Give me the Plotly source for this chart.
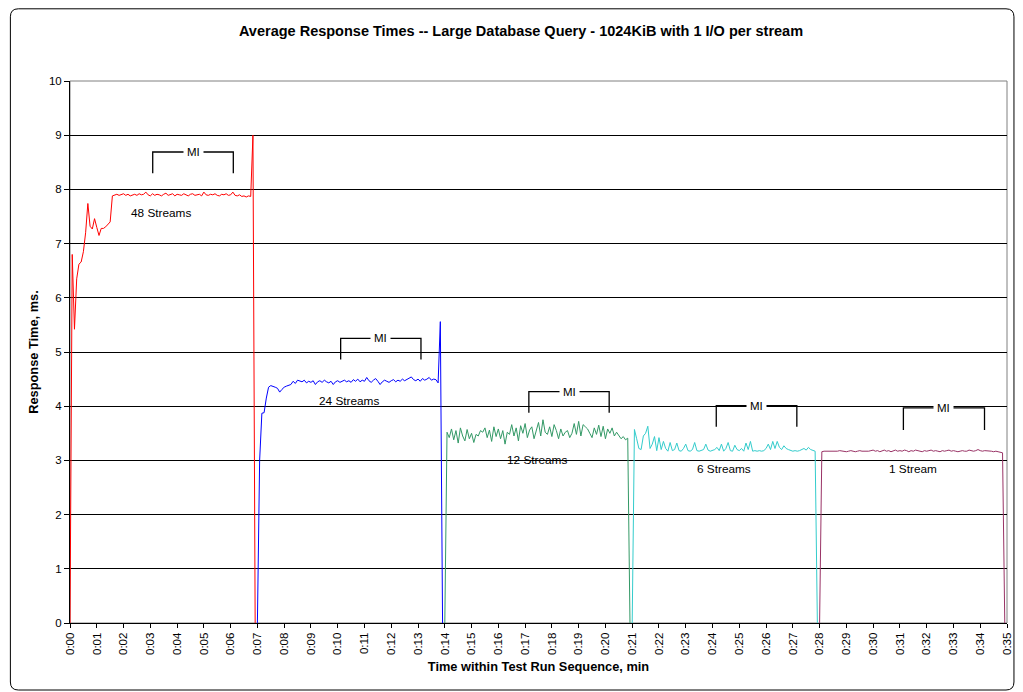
import plotly.graph_objects as go

# ---------------- data ----------------
sample_interval_min = 5 / 60  # 5-second samples
segment_start_min = [0, 7, 14, 21, 28]
series_names = ["48 Streams", "24 Streams", "12 Streams", "6 Streams", "1 Stream"]
series_colors = ["#FF0000", "#0000FF", "#339966", "#33CCCC", "#993366"]

streams_48 = [
    0, 6.80, 5.42, 6.35, 6.62, 6.66, 6.85, 7.20, 7.74, 7.32,
    7.27, 7.46, 7.30, 7.15, 7.28, 7.28, 7.31, 7.36, 7.40, 7.88,
    7.90, 7.91, 7.89, 7.90, 7.92, 7.89, 7.91, 7.88, 7.90, 7.91,
    7.89, 7.92, 7.90, 7.91, 7.95, 7.90, 7.88, 7.92, 7.89, 7.91,
    7.90, 7.88, 7.91, 7.93, 7.89, 7.90, 7.92, 7.88, 7.91, 7.90,
    7.89, 7.92, 7.90, 7.88, 7.91, 7.92, 7.89, 7.90, 7.91, 7.88,
    7.95, 7.90, 7.89, 7.91, 7.90, 7.92, 7.89, 7.88, 7.91, 7.90,
    7.92, 7.89, 7.90, 7.95, 7.89, 7.88, 7.90, 7.87, 7.88, 7.86,
    7.88, 7.87, 9.00, 0,
]
streams_24 = [
    0, 3.00, 3.87, 3.88, 4.15, 4.35, 4.38, 4.37, 4.35, 4.33,
    4.26, 4.31, 4.35, 4.37, 4.38, 4.40, 4.46, 4.42, 4.48, 4.46,
    4.45, 4.48, 4.43, 4.46, 4.44, 4.47, 4.40, 4.45, 4.47, 4.44,
    4.48, 4.45, 4.43, 4.46, 4.40, 4.45, 4.47, 4.44, 4.46, 4.48,
    4.45, 4.47, 4.44, 4.49, 4.46, 4.50, 4.45, 4.48, 4.46, 4.53,
    4.47, 4.44, 4.48, 4.51, 4.46, 4.40, 4.45, 4.48, 4.46, 4.44,
    4.47, 4.49, 4.45, 4.48, 4.46, 4.50, 4.47, 4.49, 4.51, 4.54,
    4.49, 4.47, 4.50, 4.46, 4.51, 4.48, 4.50, 4.53, 4.48, 4.50,
    4.49, 4.43, 5.56, 0,
]
streams_12 = [
    0, 3.52, 3.42, 3.58, 3.38, 3.55, 3.32, 3.60, 3.45, 3.36,
    3.57, 3.40, 3.50, 3.33, 3.48, 3.45, 3.55, 3.52, 3.60, 3.42,
    3.56, 3.35, 3.62, 3.44, 3.58, 3.40, 3.55, 3.30, 3.52, 3.48,
    3.66, 3.45, 3.60, 3.36, 3.64, 3.50, 3.68, 3.42, 3.56, 3.62,
    3.40, 3.58, 3.70, 3.45, 3.75, 3.52, 3.48, 3.62, 3.44, 3.66,
    3.55, 3.40, 3.58, 3.45, 3.52, 3.55, 3.42, 3.50, 3.68, 3.48,
    3.72, 3.45, 3.66, 3.62, 3.58, 3.50, 3.42, 3.60, 3.48, 3.65,
    3.44, 3.63, 3.40, 3.58, 3.50, 3.60, 3.45, 3.52, 3.47, 3.40,
    3.44, 3.38, 3.41, 0,
]
streams_6 = [
    0, 3.57, 3.40, 3.22, 3.20, 3.45, 3.50, 3.63, 3.22, 3.30,
    3.44, 3.18, 3.42, 3.20, 3.35, 3.22, 3.17, 3.33, 3.18, 3.20,
    3.32, 3.18, 3.17, 3.22, 3.30, 3.18, 3.17, 3.20, 3.33, 3.18,
    3.17, 3.18, 3.20, 3.30, 3.19, 3.17, 3.18, 3.20, 3.24, 3.18,
    3.30, 3.17, 3.22, 3.33, 3.18, 3.17, 3.28, 3.20, 3.18, 3.22,
    3.17, 3.32, 3.20, 3.35, 3.17, 3.18, 3.17, 3.18, 3.17, 3.18,
    3.22, 3.30, 3.20, 3.35, 3.22, 3.35, 3.24, 3.20, 3.27, 3.22,
    3.20, 3.18, 3.17, 3.18, 3.17, 3.18, 3.20, 3.22, 3.19, 3.24,
    3.20, 3.19, 3.17, 0,
]
streams_1 = [
    0, 3.16, 3.17, 3.17, 3.16, 3.17, 3.17, 3.16, 3.17, 3.18,
    3.17, 3.17, 3.16, 3.17, 3.18, 3.17, 3.16, 3.17, 3.18, 3.17,
    3.17, 3.16, 3.17, 3.18, 3.19, 3.17, 3.18, 3.16, 3.18, 3.19,
    3.17, 3.18, 3.16, 3.17, 3.19, 3.17, 3.18, 3.17, 3.19, 3.18,
    3.16, 3.18, 3.17, 3.19, 3.18, 3.17, 3.16, 3.18, 3.17, 3.18,
    3.19, 3.17, 3.18, 3.17, 3.16, 3.18, 3.17, 3.18, 3.19, 3.17,
    3.18, 3.17, 3.16, 3.17, 3.18, 3.17, 3.17, 3.19, 3.18, 3.17,
    3.18, 3.20, 3.18, 3.17, 3.18, 3.18, 3.17, 3.17, 3.16, 3.17,
    3.16, 3.15, 3.14, 0,
]
series_values = [streams_48, streams_24, streams_12, streams_6, streams_1]

# Measurement-interval (MI) brackets, minutes / ms
mi_start = [3.09, 10.11, 17.14, 24.14, 31.13]
mi_end = [6.10, 13.11, 20.14, 27.15, 34.16]
mi_top = [8.69, 5.25, 4.27, 4.01, 3.97]
mi_bottom = [8.30, 4.86, 3.88, 3.62, 3.56]

# series labels placed in the chart
label_x = [3.41, 10.43, 17.45, 24.42, 31.48]
label_y = [7.56, 4.10, 3.00, 2.84, 2.84]

tick_minutes = list(range(0, 36))
tick_labels = ["0:%02d" % m for m in tick_minutes]

title_text = "Average Response Times -- Large Database Query - 1024KiB with 1 I/O per stream"
x_title = "Time within Test Run Sequence, min"
y_title = "Response Time, ms."

FONT = "Liberation Sans, Arial, sans-serif"

# ---------------- figure ----------------
# the page body has an 8px margin, so the figure is laid out 8px smaller/shifted
FIG_W, FIG_H = 1015, 684
L, T, W, H = 62, 73, 943, 542

fig = go.Figure()
for start, vals, name, color in zip(segment_start_min, series_values, series_names, series_colors):
    times = [start + i * sample_interval_min for i in range(len(vals))]
    fig.add_trace(go.Scatter(x=times, y=vals, mode="lines", name=name,
                             line=dict(color=color, width=1), hoverinfo="skip"))

shapes = []
# plot-area grey box (top / right)
shapes.append(dict(type="rect", xref="paper", yref="paper", x0=0, x1=1, y0=0, y1=1,
                   line=dict(color="#808080", width=1), layer="below"))
# MI brackets
for x0, x1, yt, yb in zip(mi_start, mi_end, mi_top, mi_bottom):
    shapes.append(dict(type="path", xref="x", yref="y",
                       path=f"M {x0},{yb} L {x0},{yt} L {x1},{yt} L {x1},{yb}",
                       line=dict(color="#000000", width=1.3), layer="above"))

# outer rounded chart border (figure pixel -> paper conversion)
def px(xp):
    return (xp - L) / W
def py(yp):
    return (T + H - yp) / H
xl, xr, yt_, yb_ = px(2), px(1012), py(0.8), py(682)
rx, ry = 8 / W, 8 / H
border = (f"M {xl},{yt_-ry} Q {xl},{yt_} {xl+rx},{yt_} L {xr-rx},{yt_} "
          f"Q {xr},{yt_} {xr},{yt_-ry} L {xr},{yb_+ry} Q {xr},{yb_} {xr-rx},{yb_} "
          f"L {xl+rx},{yb_} Q {xl},{yb_} {xl},{yb_+ry} Z")
shapes.append(dict(type="path", xref="paper", yref="paper", path=border,
                   line=dict(color="#000000", width=1)))

annotations = []
for x0, x1, yt in zip(mi_start, mi_end, mi_top):
    annotations.append(dict(x=(x0 + x1) / 2, y=yt, xref="x", yref="y", text="MI",
                            showarrow=False, bgcolor="white", borderpad=3,
                            font=dict(family=FONT, size=11.5, color="#000")))
for tx, ty, name in zip(label_x, label_y, series_names):
    annotations.append(dict(x=tx, y=ty, xref="x", yref="y", text=name, showarrow=False,
                            font=dict(family=FONT, size=11.8, color="#000")))

fig.update_layout(
    width=FIG_W, height=FIG_H,
    margin=dict(l=L, r=FIG_W - L - W, t=T, b=FIG_H - T - H),
    paper_bgcolor="white", plot_bgcolor="white",
    showlegend=False,
    font=dict(family=FONT, size=11, color="#000"),
    title=dict(text="<b>" + title_text + "</b>", x=513 / FIG_W, xanchor="center",
               y=1 - 23 / FIG_H, yanchor="middle",
               font=dict(family=FONT, size=14.5, color="#000")),
    shapes=shapes,
    annotations=annotations,
    xaxis=dict(range=[0, 35], tickmode="array", tickvals=tick_minutes, ticktext=tick_labels,
               tickangle=-90, ticks="outside", ticklen=4, tickcolor="#000",
               showgrid=False, zeroline=False, showline=True, linecolor="#000", linewidth=1,
               tickfont=dict(family=FONT, size=11.5),
               title=dict(text="<b>" + x_title + "</b>", standoff=8,
                          font=dict(family=FONT, size=12.8))),
    yaxis=dict(range=[0, 10], dtick=1, ticks="outside", ticklen=5, tickcolor="#000",
               showgrid=True, gridcolor="#000", gridwidth=1,
               zeroline=False, showline=True, linecolor="#000", linewidth=1,
               tickfont=dict(family=FONT, size=11.5),
               title=dict(text="<b>" + y_title + "</b>", standoff=7,
                          font=dict(family=FONT, size=12.8))),
)

fig.write_html("out.html")
